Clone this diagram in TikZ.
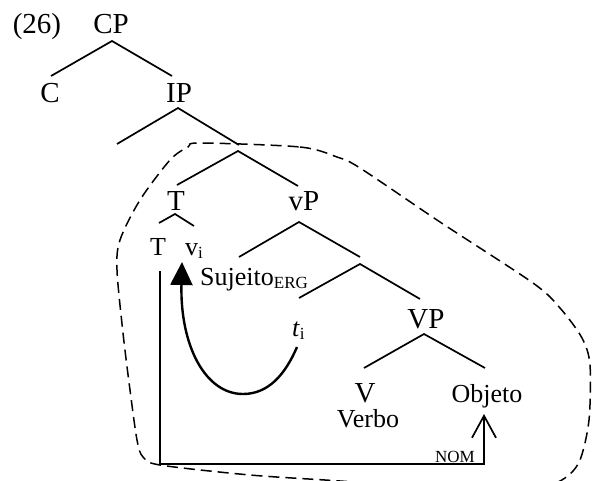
\documentclass[tikz,border=0pt]{standalone}
\usepackage{fontspec}
\setmainfont{Liberation Serif}
\usetikzlibrary{arrows.meta}
\newcommand\lowsub[1]{\raisebox{-3pt}{\fontsize{17}{18}\selectfont #1}}
\begin{document}
\begin{tikzpicture}[x=1pt,y=-1pt,
  big/.style={font=\fontsize{29}{30}\selectfont, inner sep=0pt, anchor=base},
  small/.style={font=\fontsize{26}{28}\selectfont, inner sep=0pt, anchor=base},
  branch/.style={line width=1.7pt},
  caseline/.style={line width=1.7pt, -{Straight Barb[length=22pt,width=24pt]}},
  movearrow/.style={line width=2.4pt, -{Triangle[length=23pt,width=22pt]}},
  loop/.style={line width=1.5pt, dash pattern=on 11pt off 6pt}]
\useasboundingbox (0,0) rectangle (592,480);

% labels
\node[big] (num) at (37,33) {(26)};
\node[big] (cp) at (111,33) {CP};
\node[big] (c) at (50,102) {C};
\node[big] (ip) at (179,102) {IP};
\node[big] (tbar) at (176,210) {T};
\node[big] (vPn) at (304,210) {vP};
\node[small] (tlow) at (158,255) {T};
\node[small, anchor=base west] (vi) at (185,255) {v\lowsub{i}};
\node[small, anchor=base west] (suj) at (200,285) {Sujeito\lowsub{ERG}};
\node[small, anchor=base west] (ti) at (292,336) {\textit{t}\lowsub{i}};
\node[big] (VPn) at (426,328) {VP};
\node[big] (V) at (365,402) {V};
\node[small] (verbo) at (368,427) {Verbo};
\node[small] (obj) at (487,402) {Objeto};
\node[font=\fontsize{17}{18}\selectfont, inner sep=0pt, anchor=base] (nom) at (455,462) {NOM};

% branch points
\coordinate (cpA) at (112,41);
\coordinate (cpL) at (51,76);
\coordinate (cpR) at (172,76);
\coordinate (ipA) at (178,108);
\coordinate (ipL) at (117,144);
\coordinate (ipR) at (239,145);
\coordinate (ibA) at (238,151);
\coordinate (ibL) at (177,185);
\coordinate (ibR) at (298,186);
\coordinate (tA) at (175,214);
\coordinate (tL) at (159,223);
\coordinate (tR) at (194,226);
\coordinate (vpA) at (299,222);
\coordinate (vpL) at (239,257);
\coordinate (vpR) at (360,257);
\coordinate (vbA) at (360,264);
\coordinate (vbL) at (299,298);
\coordinate (vbR) at (420,299);
\coordinate (VPA) at (424,334);
\coordinate (VPL) at (364,368);
\coordinate (VPR) at (485,368);

\draw[branch] (cpL) -- (cpA) -- (cpR);
\draw[branch] (ipL) -- (ipA) -- (ipR);
\draw[branch] (ibL) -- (ibA) -- (ibR);
\draw[branch] (tL) -- (tA) -- (tR);
\draw[branch] (vpL) -- (vpA) -- (vpR);
\draw[branch] (vbL) -- (vbA) -- (vbR);
\draw[branch] (VPL) -- (VPA) -- (VPR);

% case (NOM) line
\coordinate (k1) at (160,271);
\coordinate (k2) at (160,464);
\coordinate (k3) at (484,464);
\coordinate (k4) at (484,414);
\draw[caseline] (k1) -- (k2) -- (k3) -- (k4);

% movement arrow
\coordinate (m0) at (297,347);
\coordinate (m1) at (243,394);
\coordinate (m2) at (182,262);
\draw[movearrow] (m0) .. controls (285,375) and (268,394) .. (m1)
                      .. controls (205,394) and (180,345) .. (m2);

% dashed domain
\begin{scope}
\clip (0,0) rectangle (592,480);
\draw[loop] plot[smooth cycle, tension=0.5] coordinates {
  (200,143) (300,147) (337,157) (360,168) (440,222) (533,283) (560,308)
  (582,338) (590,365) (589,420) (580,460) (565,478) (540,486) (450,489)
  (340,481) (250,475) (160,465) (143,457) (137,440) (130,390) (123,333)
  (117,270) (120,240) (140,200) (170,160) (188,147)};
\end{scope}
\end{tikzpicture}
\end{document}
